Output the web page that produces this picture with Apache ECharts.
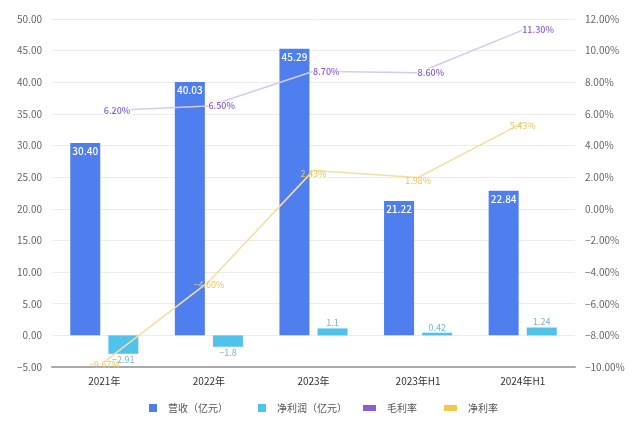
<!DOCTYPE html>
<html><head><meta charset="utf-8">
<script src="https://cdn.jsdelivr.net/npm/echarts@6/dist/echarts.min.js"></script>
<style>html,body{margin:0;padding:0;background:#fff}#c{width:640px;height:437px}</style>
</head><body><div id="c"></div>
<script>
const categories = ['2021年', '2022年', '2023年', '2023年H1', '2024年H1'];
const revenue = [30.40, 40.03, 45.29, 21.22, 22.84];
const netProfit = [-2.91, -1.8, 1.1, 0.42, 1.24];
const grossMargin = [6.20, 6.50, 8.70, 8.60, 11.30];
const netMargin = [-9.67, -4.60, 2.43, 1.98, 5.43];
const seriesNames = ['营收（亿元）', '净利润（亿元）', '毛利率', '净利率'];

const FONT = '"Noto Sans CJK SC", "Noto Sans", sans-serif';
const minus = s => s.replace('-', '−');
const chart = echarts.init(document.getElementById('c'), null, {renderer: 'canvas'});
chart.setOption({
  animation: false,
  textStyle: {fontFamily: FONT},
  grid: {left: 52, right: 65, top: 19, bottom: 70},
  legend: [{
    left: 144, top: 398, itemWidth: 8, itemHeight: 8, itemGap: 30, selectedMode: false,
    icon: 'rect',
    textStyle: {fontSize: 10, color: '#555', padding: [0, 0, 0, 6], fontFamily: FONT},
    data: [seriesNames[0], seriesNames[1]]
  }, {
    left: 358, top: 398, itemWidth: 13, itemHeight: 6, itemGap: 27, selectedMode: false,
    icon: 'rect',
    textStyle: {fontSize: 10, color: '#555', padding: [0, 0, 0, 6], fontFamily: FONT},
    data: [{name: seriesNames[2], itemStyle: {color: '#8a5cd6'}},
           {name: seriesNames[3], itemStyle: {color: '#f2c94c'}}]
  }],
  xAxis: {
    type: 'category', data: categories,
    axisLine: {onZero: false, lineStyle: {color: '#aaa', width: 2}},
    axisTick: {show: false},
    axisLabel: {color: '#333', fontSize: 10, margin: 9}
  },
  yAxis: [{
    type: 'value', min: -5, max: 50, interval: 5,
    axisLine: {show: false}, axisTick: {show: false},
    axisLabel: {color: '#666', fontSize: 10, margin: 10, formatter: v => minus(v.toFixed(2))},
    splitLine: {lineStyle: {color: '#ececec'}}
  }, {
    type: 'value', min: -10, max: 12, interval: 2,
    axisLine: {show: false}, axisTick: {show: false},
    axisLabel: {color: '#666', fontSize: 10, margin: 10, formatter: v => minus(v.toFixed(2)) + '%'},
    splitLine: {show: false}
  }],
  series: [{
    name: seriesNames[0], type: 'bar', data: revenue, barWidth: 30, barGap: '27%',
    itemStyle: {color: '#4f7fee'},
    label: {show: true, position: 'insideTop', distance: 3, color: '#fff', fontSize: 10, fontWeight: 500,
      formatter: p => p.value.toFixed(2)}
  }, {
    name: seriesNames[1], type: 'bar', barWidth: 30,
    data: netProfit.map(v => ({value: v, label: {position: v < 0 ? 'bottom' : 'top'}})),
    itemStyle: {color: '#4fc3ec'},
    label: {show: true, distance: 1, color: '#72b6d6', fontSize: 9,
      formatter: p => minus(String(p.value))}
  }, {
    name: seriesNames[2], type: 'line', yAxisIndex: 1, data: grossMargin,
    symbol: 'circle', symbolSize: 1, showSymbol: true, z: 3,
    lineStyle: {color: '#d3cbf1', width: 1.5},
    itemStyle: {color: '#d3cbf1'},
    label: {show: true, position: 'right', distance: -1, color: '#8a5cd6', fontSize: 9, fontWeight: 500,
      backgroundColor: '#fff', formatter: p => p.value.toFixed(2) + '%'}
  }, {
    name: seriesNames[3], type: 'line', yAxisIndex: 1, data: netMargin,
    symbol: 'circle', symbolSize: 1, showSymbol: true, z: 3,
    lineStyle: {color: '#f5df9c', width: 1.5},
    itemStyle: {color: '#f5df9c'},
    label: {show: true, position: 'inside', offset: [0, 3], color: '#e9c55c', fontSize: 9,
      formatter: p => minus(p.value.toFixed(2)) + '%'}
  }]
});
</script></body></html>
